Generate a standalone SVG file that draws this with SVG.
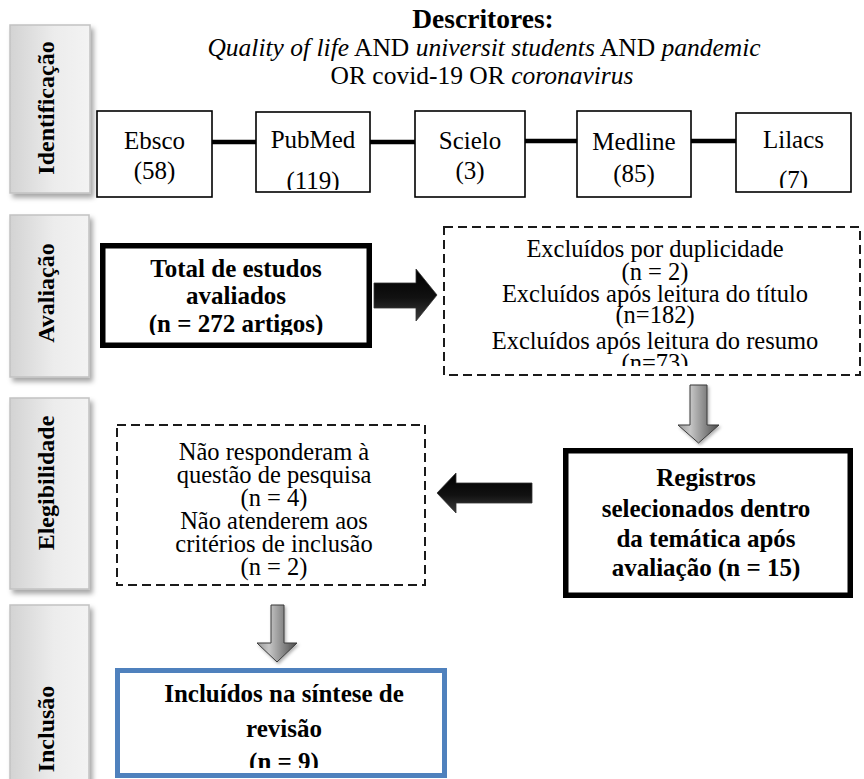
<svg xmlns="http://www.w3.org/2000/svg" width="864" height="779" viewBox="0 0 864 779">
  <defs>
    <style>
      text { font-family: "Liberation Serif", "Times New Roman", serif; fill: #000; }
      .title { font-size: 27.5px; font-weight: bold; text-anchor: middle; }
      .query { font-size: 25.5px; text-anchor: middle; }
      .src { font-size: 25px; text-anchor: middle; }
      .body { font-size: 24.5px; text-anchor: middle; }
      .bold { font-size: 25px; font-weight: bold; text-anchor: middle; }
      .side { font-size: 24px; font-weight: bold; text-anchor: middle; }
      .srcbox { fill: #fff; stroke: #000; stroke-width: 1.6; }
      .solid { fill: #fff; stroke: #000; stroke-width: 5.5; }
      .dashed { fill: #fff; stroke: #1a1a1a; stroke-width: 2; stroke-dasharray: 9 5; }
      .blue { fill: #fff; stroke: #4f81bd; stroke-width: 5; }
      .sidebox { fill: url(#sideFill); stroke: #c2c2c2; stroke-width: 1.5; filter: url(#softShadow); }
      .link { stroke: #000; stroke-width: 4.5; fill: none; }
      .blackArrow { fill: url(#blackFill); stroke: #333; stroke-width: 0.8; }
      .grayArrow { fill: url(#grayFill); stroke: #3a3a3a; stroke-width: 1; filter: url(#arrowShadow); }
    </style>
    <linearGradient id="sideFill" x1="0" y1="0" x2="1" y2="0">
      <stop offset="0" stop-color="#d3d3d3"/>
      <stop offset="0.55" stop-color="#ececec"/>
      <stop offset="1" stop-color="#f3f3f3"/>
    </linearGradient>
    <linearGradient id="blackFill" x1="0" y1="0" x2="0" y2="1">
      <stop offset="0" stop-color="#000"/>
      <stop offset="0.55" stop-color="#111"/>
      <stop offset="1" stop-color="#3c3c3c"/>
    </linearGradient>
    <linearGradient id="grayFill" x1="0" y1="0" x2="1" y2="0">
      <stop offset="0" stop-color="#9a9a9a"/>
      <stop offset="0.3" stop-color="#c6c6c6"/>
      <stop offset="1" stop-color="#4a4a4a"/>
    </linearGradient>
    <filter id="softShadow" x="-20%" y="-10%" width="150%" height="130%">
      <feDropShadow dx="3" dy="4" stdDeviation="2.5" flood-color="#000" flood-opacity="0.35"/>
    </filter>
    <filter id="arrowShadow" x="-30%" y="-20%" width="160%" height="150%">
      <feDropShadow dx="1.5" dy="2" stdDeviation="1.5" flood-color="#000" flood-opacity="0.3"/>
    </filter>
    <!-- text frames that cut the last line short -->
    <clipPath id="clipPubMed"><rect x="256" y="112" width="114" height="78"/></clipPath>
    <clipPath id="clipLilacs"><rect x="736" y="113" width="115" height="75"/></clipPath>
    <clipPath id="clipTotal"><rect x="105" y="248" width="262" height="87"/></clipPath>
    <clipPath id="clipExcl"><rect x="446" y="229" width="412" height="137"/></clipPath>
    <clipPath id="clipIncl"><rect x="120" y="673" width="322" height="95"/></clipPath>
  </defs>

  <rect width="864" height="779" fill="#fff"/>

  <!-- stage labels -->
  <g id="stage-identificacao">
    <rect class="sidebox" x="10" y="25" width="80" height="168"/>
    <text class="side" transform="translate(54,108) rotate(-90)">Identificação</text>
  </g>
  <g id="stage-avaliacao">
    <rect class="sidebox" x="10" y="215" width="79" height="162"/>
    <text class="side" transform="translate(54,293) rotate(-90)">Avaliação</text>
  </g>
  <g id="stage-elegibilidade">
    <rect class="sidebox" x="10" y="398" width="79" height="191"/>
    <text class="side" transform="translate(54,483) rotate(-90)">Elegibilidade</text>
  </g>
  <g id="stage-inclusao">
    <rect class="sidebox" x="10" y="605" width="79" height="190"/>
    <text class="side" transform="translate(54,729) rotate(-90)">Inclusão</text>
  </g>

  <!-- search descriptors -->
  <g id="descritores">
    <text class="title" x="483" y="28">Descritores:</text>
    <text class="query" x="484" y="56"><tspan font-style="italic">Quality of life</tspan> AND <tspan font-style="italic">universit students</tspan> AND <tspan font-style="italic">pandemic</tspan></text>
    <text class="query" x="482" y="84">OR covid-19 OR <tspan font-style="italic">coronavirus</tspan></text>
  </g>

  <!-- connectors -->
  <g id="connectors">
    <line class="link" x1="212" y1="142" x2="256" y2="142"/>
    <line class="link" x1="370" y1="142" x2="415" y2="142"/>
    <line class="link" x1="525" y1="141" x2="577" y2="141"/>
    <line class="link" x1="691" y1="141" x2="736" y2="141"/>
    <polygon class="blackArrow" points="374,283 416,283 416,269 437,295 416,321 416,308 374,308"/>
    <polygon class="grayArrow" points="690,385 707,385 707,425 719,425 698.5,443 678,425 690,425"/>
    <polygon class="blackArrow" points="532,483 456,483 456,473 437,493 456,513 456,503 532,503"/>
    <polygon class="grayArrow" points="271,605 284,605 284,643 297,643 277,662 257,643 271,643"/>
  </g>

  <!-- databases -->
  <g id="ebsco">
    <rect class="srcbox" x="97" y="111" width="115" height="86"/>
    <text class="src" x="154.5" y="149">Ebsco</text>
    <text class="src" x="154.5" y="179">(58)</text>
  </g>
  <g id="pubmed">
    <rect class="srcbox" x="256" y="112" width="114" height="80"/>
    <g clip-path="url(#clipPubMed)">
      <text class="src" x="313" y="148">PubMed</text>
      <text class="src" x="313" y="189">(119)</text>
    </g>
  </g>
  <g id="scielo">
    <rect class="srcbox" x="415" y="111" width="110" height="86"/>
    <text class="src" x="470" y="149">Scielo</text>
    <text class="src" x="470" y="179">(3)</text>
  </g>
  <g id="medline">
    <rect class="srcbox" x="577" y="111" width="114" height="86"/>
    <text class="src" x="634" y="150">Medline</text>
    <text class="src" x="634" y="182">(85)</text>
  </g>
  <g id="lilacs">
    <rect class="srcbox" x="736" y="113" width="115" height="79"/>
    <g clip-path="url(#clipLilacs)">
      <text class="src" x="793.5" y="148">Lilacs</text>
      <text class="src" x="793.5" y="188">(7)</text>
    </g>
  </g>

  <!-- screening -->
  <g id="total">
    <rect class="solid" x="102.75" y="245.75" width="266.5" height="99.5"/>
    <g clip-path="url(#clipTotal)">
      <text class="bold" x="236" y="277">Total de estudos</text>
      <text class="bold" x="236" y="304">avaliados</text>
      <text class="bold" x="236" y="332">(n = 272 artigos)</text>
    </g>
  </g>
  <g id="excluidos">
    <rect class="dashed" x="444" y="227" width="416" height="148"/>
    <g clip-path="url(#clipExcl)">
      <text class="body" x="655" y="257">Excluídos por duplicidade</text>
      <text class="body" x="655" y="280">(n = 2)</text>
      <text class="body" x="655" y="302">Excluídos após leitura do título</text>
      <text class="body" x="655" y="323">(n=182)</text>
      <text class="body" x="655" y="349">Excluídos após leitura do resumo</text>
      <text class="body" x="655" y="371">(n=73)</text>
    </g>
  </g>

  <!-- eligibility -->
  <g id="registros">
    <rect class="solid" x="565.75" y="450.75" width="284.5" height="144.5"/>
    <text class="bold" x="706" y="486">Registros</text>
    <text class="bold" x="706" y="517">selecionados dentro</text>
    <text class="bold" x="706" y="547">da temática após</text>
    <text class="bold" x="706" y="576">avaliação (n = 15)</text>
  </g>
  <g id="nao-atendidos">
    <rect class="dashed" x="117" y="425" width="308" height="160"/>
    <text class="body" x="274" y="460">Não responderam à</text>
    <text class="body" x="274" y="483">questão de pesquisa</text>
    <text class="body" x="274" y="506">(n = 4)</text>
    <text class="body" x="274" y="529">Não atenderem aos</text>
    <text class="body" x="274" y="552">critérios de inclusão</text>
    <text class="body" x="274" y="575">(n = 2)</text>
  </g>

  <!-- inclusion -->
  <g id="incluidos">
    <rect class="blue" x="117.5" y="670.5" width="327" height="105"/>
    <g clip-path="url(#clipIncl)">
      <text class="bold" x="284" y="702">Incluídos na síntese de</text>
      <text class="bold" x="284" y="737">revisão</text>
      <text class="bold" x="284" y="770">(n = 9)</text>
    </g>
  </g>
</svg>
